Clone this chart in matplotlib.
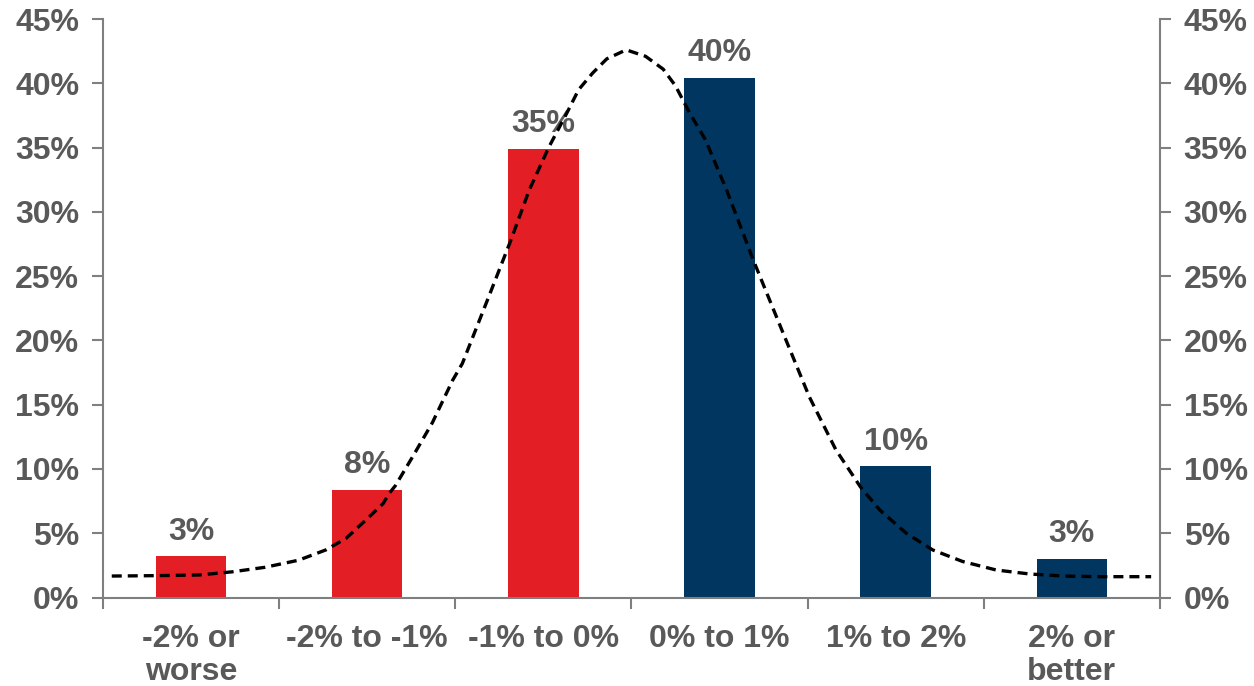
import matplotlib.pyplot as plt
from matplotlib.ticker import FixedLocator

plt.rcParams['font.family'] = ['Liberation Sans', 'DejaVu Sans']
plt.rcParams['font.weight'] = 'bold'

categories = ['-2% or\nworse', '-2% to -1%', '-1% to 0%', '0% to 1%', '1% to 2%', '2% or\nbetter']
shares = [3.2, 8.4, 34.9, 40.4, 10.2, 3.0]
bar_colors = ['#E31E24', '#E31E24', '#E31E24', '#00365F', '#00365F', '#00365F']

# fitted distribution curve, in category units along x
curve_x = [-0.45, -0.2, 0.045, 0.235, 0.42, 0.61, 0.765, 0.88, 0.99, 1.09,
           1.125, 1.16, 1.26, 1.37, 1.485, 1.54, 1.69, 1.81, 1.92, 2.03,
           2.13, 2.20, 2.28, 2.36, 2.47, 2.58, 2.68, 2.75, 2.83, 2.92,
           3.04, 3.19, 3.36, 3.51, 3.66, 3.80, 3.91, 4.06, 4.21, 4.38,
           4.57, 4.76, 4.95, 5.16, 5.45]
curve_y = [1.67, 1.70, 1.75, 2.0, 2.35, 2.9, 3.7, 4.6, 6.0, 7.3,
           8.1, 8.7, 11.0, 13.6, 16.9, 18.2, 23.4, 27.6, 31.7, 35.0,
           37.6, 39.5, 40.8, 41.9, 42.6, 42.1, 41.1, 39.8, 37.7, 35.6,
           31.7, 26.3, 20.6, 15.6, 11.5, 8.6, 6.8, 5.0, 3.7, 2.8,
           2.14, 1.83, 1.67, 1.62, 1.62]

y_ticks = [0, 5, 10, 15, 20, 25, 30, 35, 40, 45]

text_gray = '#595959'
axis_gray = '#7F7F7F'

fig = plt.figure(figsize=(12.54, 6.86), dpi=100)
ax = fig.add_axes([0.0821, 0.129, 0.8429, 0.8433])

pos = list(range(len(categories)))
bars = ax.bar(pos, shares, width=0.4, color=bar_colors, zorder=2)
for b, v in zip(bars, shares):
    ax.annotate(f'{v:.0f}%', (b.get_x() + b.get_width() / 2, v),
                xytext=(0, 7), textcoords='offset points',
                ha='center', va='bottom', fontsize=23, color=text_gray,
                fontweight='bold')

ax.plot(curve_x, curve_y, color='black', lw=2.4, dashes=(3, 1.8),
        dash_joinstyle='round', zorder=3)

ax.set_xlim(-0.5, 5.5)
ax.set_ylim(0, 45)

ax.set_yticks(y_ticks)
ax.set_yticklabels([f'{t}%' for t in y_ticks])
ax.tick_params(axis='y', which='both', left=True, right=True,
               labelleft=True, labelright=True, direction='out',
               length=8, width=1.5, color=axis_gray, labelsize=23,
               labelcolor=text_gray, pad=9)

ax.set_xticks(pos)
ax.set_xticklabels(categories, linespacing=1.12)
ax.xaxis.set_minor_locator(FixedLocator([i + 0.5 for i in range(-1, 6)]))
ax.tick_params(axis='x', which='major', length=0, labelsize=23,
               labelcolor=text_gray, pad=19)
ax.tick_params(axis='x', which='minor', length=8, width=1.5,
               color=axis_gray, direction='out')

for side in ['left', 'right', 'bottom']:
    ax.spines[side].set_color(axis_gray)
    ax.spines[side].set_linewidth(1.5)
ax.spines['top'].set_visible(False)

fig.savefig('out.png', dpi=100)
